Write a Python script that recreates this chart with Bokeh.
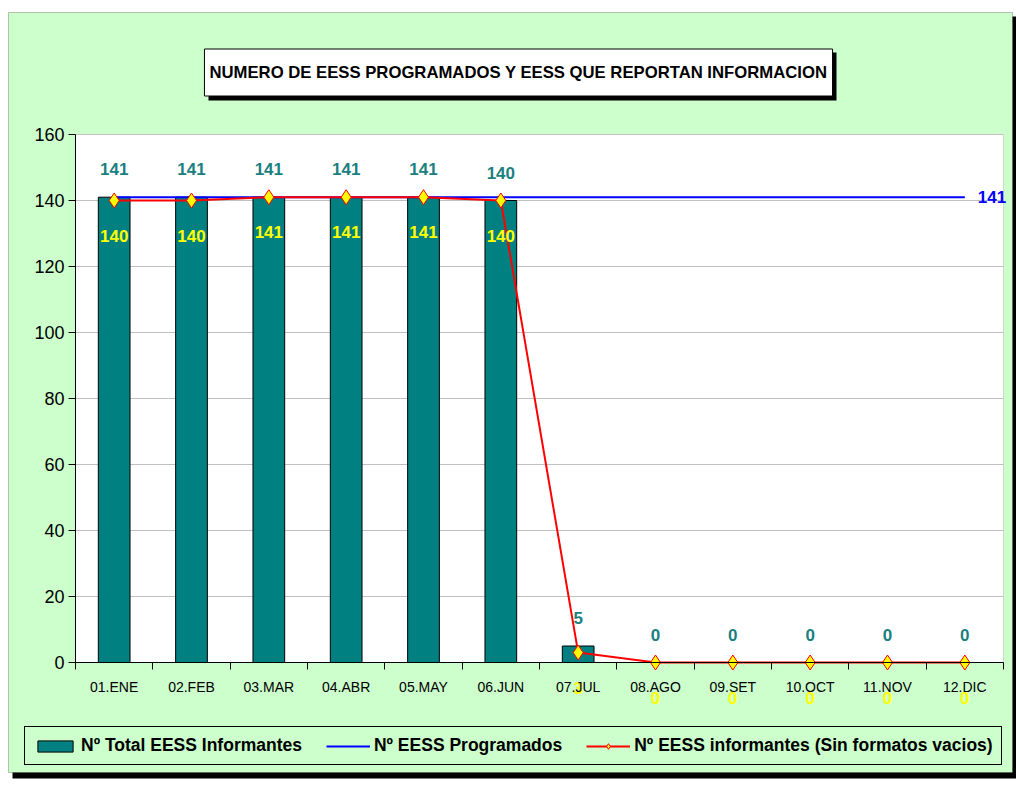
from bokeh.plotting import figure
from bokeh.models import (ColumnDataSource, FixedTicker, Legend, LegendItem,
                          Label, BoxAnnotation, Range1d)
from bokeh.core.properties import value
from bokeh.embed import file_html
from bokeh.resources import INLINE

# ---------------- data ----------------
months = ["01.ENE", "02.FEB", "03.MAR", "04.ABR", "05.MAY", "06.JUN",
          "07.JUL", "08.AGO", "09.SET", "10.OCT", "11.NOV", "12.DIC"]
total_informantes = [141, 141, 141, 141, 141, 140, 5, 0, 0, 0, 0, 0]
programados = [141, 141, 141, 141, 141, 141, 141, 141, 141, 141, 141, 141]
sin_formatos = [140, 140, 141, 141, 141, 140, 3, 0, 0, 0, 0, 0]
y_ticks = [0, 20, 40, 60, 80, 100, 120, 140, 160]
title_text = "NUMERO DE EESS PROGRAMADOS Y EESS QUE REPORTAN INFORMACION"
legend_labels = ["Nº Total EESS Informantes", "Nº EESS Programados",
                 "Nº EESS informantes (Sin formatos vacios)"]

# category positions (centres) and boundaries
xc = [i + 0.5 for i in range(len(months))]
xb = [float(i) for i in range(len(months) + 1)]
NCAT = len(months)
YMAX = y_ticks[-1]

FONT = "Liberation Sans"
GREEN = "#CCFFCC"
TEAL = "#008080"

# ---------------- page geometry (pixels) ----------------
W, H = 1016, 786
PL, PR, PT, PB = 75, 1003, 134, 662          # plot-area edges on the page
sx = (PR - PL) / NCAT
sy = (PB - PT) / YMAX
x_range = Range1d(-PL / sx, NCAT + (W - PR) / sx)
y_range = Range1d(-(H - PB) / sy, YMAX + PT / sy)

src = ColumnDataSource(dict(
    x=xc, month=months, total=total_informantes, prog=programados,
    sinf=sin_formatos,
    total_lbl=[str(v) for v in total_informantes],
    sinf_lbl=[str(v) for v in sin_formatos],
))

p = figure(width=W, height=H, x_range=x_range, y_range=y_range,
           output_backend="svg", toolbar_location=None,
           min_border=0, min_border_left=0, min_border_right=0,
           min_border_top=0, min_border_bottom=0)
p.border_fill_color = "white"
p.background_fill_color = "white"
p.outline_line_color = None
p.xgrid.grid_line_color = None
p.ygrid.grid_line_color = None


def sbox(left, right, top, bottom, **kw):
    """box in page pixels (top-left origin)"""
    return BoxAnnotation(left=left, right=right, top=H - top, bottom=H - bottom,
                         left_units="screen", right_units="screen",
                         top_units="screen", bottom_units="screen", **kw)


# chart area background, border and shadow
p.add_layout(sbox(12, 1016, 16, 778, fill_color="black", fill_alpha=1,
                  line_color=None, level="image"))
p.add_layout(sbox(8, 1012, 12, 772, fill_color=GREEN, fill_alpha=1,
                  line_color="#333333", line_width=1, level="image"))
# white plot area
p.add_layout(BoxAnnotation(left=0, right=NCAT, bottom=0, top=YMAX,
                           fill_color="white", fill_alpha=1,
                           line_color="#8c8c8c", line_width=1, level="image"))

# horizontal gridlines
p.segment(x0=[0] * len(y_ticks), x1=[NCAT] * len(y_ticks),
          y0=y_ticks, y1=y_ticks, line_color="#c0c0c0", line_width=1)

# y axis
p.yaxis.fixed_location = 0
p.yaxis.bounds = (0, YMAX)
p.yaxis.ticker = FixedTicker(ticks=y_ticks)
p.yaxis.axis_line_color = "black"
p.yaxis.major_tick_line_color = "black"
p.yaxis.major_tick_out = 7
p.yaxis.major_tick_in = 0
p.yaxis.minor_tick_line_color = None
p.yaxis.major_label_text_font = FONT
p.yaxis.major_label_text_font_size = "18px"
p.yaxis.major_label_text_color = "black"
p.yaxis.major_label_standoff = 4

# x axis: labels at centres, tick marks at boundaries
p.xaxis.fixed_location = 0
p.xaxis.bounds = (0, NCAT)
p.xaxis.ticker = FixedTicker(ticks=xc, minor_ticks=xb)
p.xaxis.major_label_overrides = {x: m for x, m in zip(xc, months)}
p.xaxis.axis_line_color = "black"
p.xaxis.major_tick_line_color = None
p.xaxis.minor_tick_line_color = "black"
p.xaxis.minor_tick_out = 7
p.xaxis.minor_tick_in = 0
p.xaxis.major_tick_out = 7
p.xaxis.major_label_text_font = FONT
p.xaxis.major_label_text_font_size = "14px"
p.xaxis.major_label_text_color = "black"
p.xaxis.major_label_standoff = 9

# glyphs
bars = p.vbar(x="x", top="total", width=0.41, source=src,
              fill_color=TEAL, line_color="black", line_width=1)
blue = p.line(x="x", y="prog", source=src, line_color="#0000FF", line_width=2)
red = p.line(x="x", y="sinf", source=src, line_color="#FF0000", line_width=2)
pts = p.scatter(x="x", y="sinf", source=src, marker="diamond", size=15,
                fill_color="#FFFF00", line_color="#FF0000", line_width=1)

# teal data labels (total)
p.text(x="x", y="total", text="total_lbl", source=src, y_offset=-28,
       text_align="center", text_baseline="middle",
       text_font=value(FONT), text_font_style="bold",
       text_font_size="17px", text_color="#1b7f7f")

# yellow data labels (sin formatos)
p.text(x="x", y="sinf", text="sinf_lbl", source=src, y_offset=35,
       text_align="center", text_baseline="middle",
       text_font=value(FONT), text_font_style="bold",
       text_font_size="17px", text_color="#FFFF00")

# blue end label
p.add_layout(Label(x=xc[-1], y=programados[-1], text=str(programados[-1]),
                   x_offset=13, text_align="left", text_baseline="middle",
                   text_font=FONT, text_font_style="bold",
                   text_font_size="17px", text_color="#0000FF"))

# title box with shadow
p.add_layout(sbox(208, 836, 52, 100, fill_color="black", fill_alpha=1,
                  line_color=None))
p.add_layout(Label(x=518, y=H - 72, x_units="screen", y_units="screen",
                   text=title_text, text_align="center", text_baseline="middle",
                   text_font=FONT, text_font_style="bold",
                   text_font_size="16.7px", text_color="black",
                   background_fill_color="white", background_fill_alpha=1,
                   border_line_color="black", border_line_width=1,
                   padding=(5, 14)))

# legend
legend = Legend(items=[
    LegendItem(label=legend_labels[0], renderers=[bars]),
    LegendItem(label=legend_labels[1], renderers=[blue]),
    LegendItem(label=legend_labels[2], renderers=[red, pts]),
], orientation="horizontal", location=(24, H - 765), margin=0,
    padding=8, spacing=24, glyph_width=44, glyph_height=14,
    label_standoff=4, label_text_font=FONT, label_text_font_style="bold",
    label_text_font_size="17.5px", label_text_color="black",
    background_fill_color=GREEN, background_fill_alpha=1,
    border_line_color="black", border_line_width=1, border_line_alpha=1)
p.add_layout(legend, "center")

open("out.html", "w").write(file_html(p, INLINE))
